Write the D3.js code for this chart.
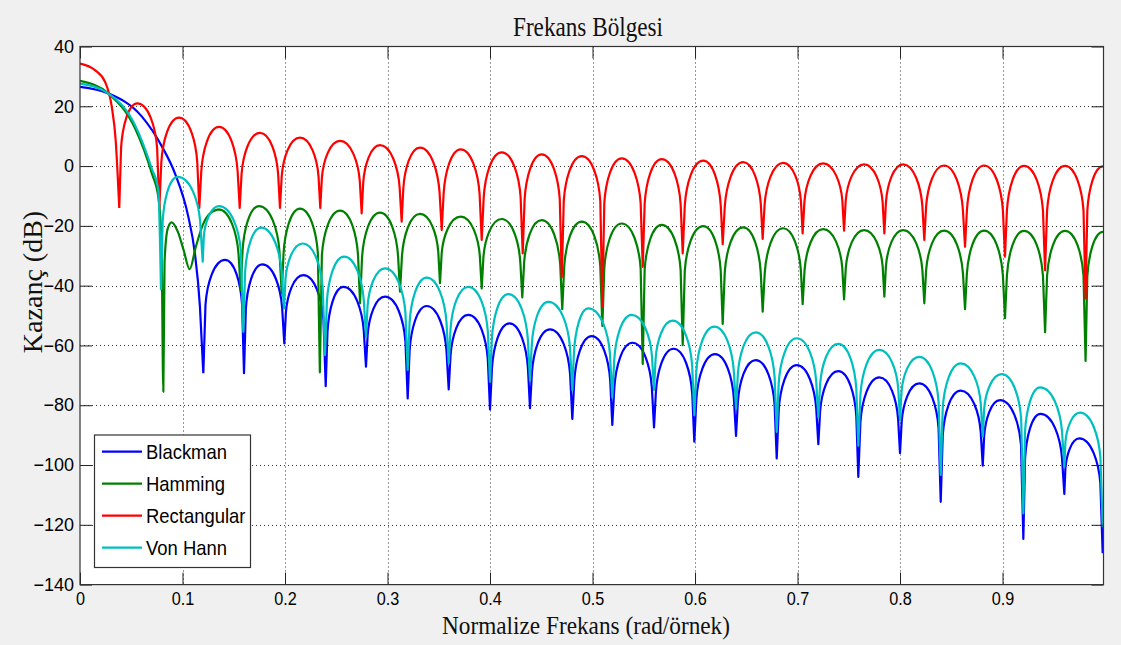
<!DOCTYPE html>
<html>
<head>
<meta charset="utf-8">
<script src="https://cdn.jsdelivr.net/npm/d3@7"></script>
<style>
  html, body { margin: 0; padding: 0; background: #f0f0f0; }
  svg { display: block; }
</style>
</head>
<body>
<svg id="chart" width="1121" height="645"></svg>
<script>
// ---------------- DATA ----------------
const seriesNames = ["Blackman", "Hamming", "Rectangular", "Von Hann"];
const xTicks = [0, 0.1, 0.2, 0.3, 0.4, 0.5, 0.6, 0.7, 0.8, 0.9];
const yTicks = [40, 20, 0, -20, -40, -60, -80, -100, -120, -140];

// main lobes: [normalized frequency, dB]
const blackmanMain = [[0,26.5],[0.0276,24.3],[0.06,16.7],[0.08,6.5],[0.0927,-2.5],[0.1057,-17],[0.112,-29],[0.117,-47],[0.1203,-69.3]];
const hammingMain = [[0,28.5],[0.0276,24.3],[0.0537,12.6],[0.07,-2.4],[0.0764,-10.3],[0.0795,-25],[0.0813,-75.5],
  [0.0825,-32],[0.0855,-21],[0.0894,-18.8],[0.0955,-22],[0.101,-28],[0.107,-34.5],[0.113,-27],[0.12,-19.5],[0.128,-15.5],[0.135,-14.5]];
const rectangularMain = [[0,34.3],[0.0146,32.1],[0.0244,28.2],[0.031,19.8],[0.0348,8.7],[0.0383,-14]];
const vonHannMain = [[0,27.6],[0.0276,24.3],[0.0537,13.7],[0.07,-0.8],[0.0764,-8],[0.079,-41.5]];

// side lobes: alternating peak / null points [normalized frequency, dB]
const blackmanLobes = [[0.1415,-31.4],[0.16,-69.3],[0.1778,-32.9],[0.1993,-59.3],[0.2179,-36.5],[0.2397,-73.6],[0.257,-40.4],[0.279,-67.1],
  [0.2976,-43.7],[0.3197,-77.7],[0.3382,-46.8],[0.3597,-74.7],[0.3788,-49.8],[0.4,-81.4],[0.419,-52.6],[0.439,-81],[0.4585,-54.6],[0.4803,-84.6],
  [0.4992,-56.9],[0.5193,-86.6],[0.539,-59.1],[0.56,-87.4],[0.579,-61.1],[0.5993,-92.2],[0.6195,-62.9],[0.64,-90.3],[0.6592,-64.9],[0.6797,-97.8],
  [0.6992,-66.6],[0.7203,-93],[0.7398,-68.6],[0.7593,-104],[0.7798,-70.7],[0.8,-96],[0.8188,-72.7],[0.8397,-112.3],[0.8592,-75.1],[0.8807,-100.2],
  [0.8976,-78.3],[0.9203,-124.7],[0.937,-82.9],[0.9603,-109.7],[0.9749,-91.1],[0.9977,-129.5]];
const hammingLobes = [[0.1568,-41.5],[0.1746,-13.4],[0.1968,-42.6],[0.2146,-14.2],[0.234,-69],[0.2537,-14.9],[0.2732,-45.9],[0.2927,-15.6],
  [0.3122,-42],[0.3317,-16],[0.3512,-39.2],[0.3714,-16.9],[0.3919,-40.9],[0.4114,-17.7],[0.4315,-43.9],[0.4504,-18.1],[0.4705,-47.9],[0.4895,-18.6],
  [0.5096,-53.5],[0.5285,-19.2],[0.549,-66.2],[0.5675,-19.7],[0.588,-59.9],[0.608,-20.1],[0.627,-52.8],[0.647,-20.5],[0.666,-48.7],[0.686,-20.8],
  [0.705,-46.2],[0.725,-21.1],[0.7454,-44.6],[0.765,-21.4],[0.7847,-43.7],[0.803,-21.4],[0.8237,-45.9],[0.843,-21.6],[0.8634,-47.9],[0.882,-21.6],
  [0.9024,-50.9],[0.921,-21.7],[0.9415,-55.6],[0.961,-21.7],[0.981,-65.2],[0.998,-22]];
const rectangularLobes = [[0.0559,21.0],[0.0774,-14],[0.0966,16.2],[0.1164,-14],[0.1356,13.1],[0.1558,-14],[0.1756,11.1],[0.1951,-14],
  [0.2146,9.5],[0.2344,-14],[0.2537,8.4],[0.2748,-15.8],[0.2927,7.0],[0.3138,-18.6],[0.3317,6.2],[0.3529,-21.4],[0.3714,5.6],[0.3919,-24.7],
  [0.4114,4.6],[0.4319,-29.2],[0.4504,3.9],[0.47,-37.2],[0.4895,3.3],[0.5096,-47],[0.5285,2.6],[0.549,-33.7],[0.5675,2.3],[0.588,-29.2],
  [0.608,1.8],[0.627,-26.1],[0.647,1.3],[0.666,-24.4],[0.686,1.1],[0.705,-22.5],[0.725,0.9],[0.7454,-21.6],[0.765,0.6],[0.7847,-22.5],
  [0.803,0.6],[0.8237,-24.7],[0.843,0.2],[0.8634,-27],[0.882,0.2],[0.9024,-30.3],[0.921,0.1],[0.9415,-34.8],[0.961,0.1],[0.981,-44.3],[0.998,-0.1]];
const vonHannLobes = [[0.0953,-3.6],[0.1197,-32],[0.1356,-13.4],[0.1593,-55.4],[0.1766,-20.6],[0.199,-47.6],[0.2173,-25.9],[0.239,-63.2],
  [0.2576,-30.3],[0.279,-57.1],[0.2976,-34.2],[0.3197,-68.2],[0.3382,-37.3],[0.3597,-66],[0.3788,-40.4],[0.4,-72.1],[0.4179,-42.8],[0.439,-71.6],
  [0.4569,-45.4],[0.4803,-74.9],[0.4959,-47.6],[0.5193,-77.4],[0.5382,-49.8],[0.56,-74.9],[0.5782,-51.7],[0.5993,-83.3],[0.6188,-53.7],[0.64,-81],
  [0.6592,-55.6],[0.6797,-88.9],[0.6992,-57.6],[0.7203,-84],[0.7398,-59.5],[0.7593,-93.5],[0.7798,-61.5],[0.8,-85],[0.8188,-63.8],[0.8397,-103.3],
  [0.8592,-66],[0.8807,-90.5],[0.8992,-69.6],[0.9203,-116.2],[0.9366,-74],[0.9603,-100.6],[0.9756,-82.5],[0.9977,-120.6]];

const seriesColors = ["#0000ff", "#008000", "#ff0000", "#00bfbf"];

// ---------------- LAYOUT ----------------
const svg = d3.select("#chart");
const pLeft = 80, pRight = 1103.5, pTop = 46.5, pBottom = 584.6;
const x = d3.scaleLinear().domain([0, 0.9985]).range([pLeft, pRight]);
const y = d3.scaleLinear().domain([-140, 40]).range([pBottom, pTop]);

svg.append("rect").attr("x", 0).attr("y", 0).attr("width", 1121).attr("height", 645).attr("fill", "#f0f0f0");
svg.append("rect").attr("x", pLeft).attr("y", pTop).attr("width", pRight - pLeft).attr("height", pBottom - pTop).attr("fill", "#ffffff");

// grid
const grid = svg.append("g").attr("stroke", "#333").attr("stroke-width", 1).attr("stroke-dasharray", "1,3");
grid.selectAll("line.gx").data(xTicks.slice(1)).join("line")
  .attr("x1", d => Math.round(x(d)) + 0.5).attr("x2", d => Math.round(x(d)) + 0.5)
  .attr("y1", pTop).attr("y2", pBottom);
grid.selectAll("line.gy").data(yTicks.slice(1, -1)).join("line")
  .attr("y1", d => Math.round(y(d)) + 0.5).attr("y2", d => Math.round(y(d)) + 0.5)
  .attr("x1", pLeft).attr("x2", pRight);

// curves
svg.append("defs").append("clipPath").attr("id", "clip")
  .append("rect").attr("x", pLeft).attr("y", pTop - 2).attr("width", pRight - pLeft).attr("height", pBottom - pTop + 4);

const mainLine = d3.line().x(d => x(d[0])).y(d => y(d[1])).curve(d3.curveMonotoneX);

function lobePath(start, lobes) {
  const p = d3.path();
  p.moveTo(x(start[0]), y(start[1]));
  let prev = start;
  for (const cur of lobes) {
    const rising = cur[1] > prev[1];
    const nul = rising ? prev : cur, pk = rising ? cur : prev;
    const D = pk[1] - nul[1];
    const s = Math.min(15, 0.55 * D);
    const us = 0.1 * s / 15;
    const X = u => x(nul[0] + u * (pk[0] - nul[0]));
    const S = [X(us), y(pk[1] - s)];
    const C1 = [X(us + 0.07), y(pk[1] - 0.53 * s)];
    const C2 = [X(0.5), y(pk[1])];
    const P = [x(pk[0]), y(pk[1])];
    if (rising) {
      p.lineTo(S[0], S[1]);
      p.bezierCurveTo(C1[0], C1[1], C2[0], C2[1], P[0], P[1]);
    } else {
      p.bezierCurveTo(C2[0], C2[1], C1[0], C1[1], S[0], S[1]);
      p.lineTo(x(nul[0]), y(nul[1]));
    }
    prev = cur;
  }
  return p.toString();
}

const mains = [blackmanMain, hammingMain, rectangularMain, vonHannMain];
const lobesAll = [blackmanLobes, hammingLobes, rectangularLobes, vonHannLobes];
const curves = svg.append("g").attr("clip-path", "url(#clip)");
seriesNames.forEach((name, i) => {
  const m = mains[i];
  const d = mainLine(m) + lobePath(m[m.length - 1], lobesAll[i]);
  curves.append("path").attr("d", d).attr("fill", "none")
    .attr("stroke", seriesColors[i]).attr("stroke-width", 2.2).attr("stroke-linejoin", "round");
});

// axes
const tickFont = "'Liberation Sans', Arial, sans-serif";
const fmt = d => d === 0 ? "0" : d3.format(".1f")(d);
const axB = svg.append("g").attr("transform", `translate(0,${pBottom})`)
  .call(d3.axisBottom(x).tickValues(xTicks).tickFormat(fmt).tickSize(-12).tickPadding(8));
const axL = svg.append("g").attr("transform", `translate(${pLeft},0)`)
  .call(d3.axisLeft(y).tickValues(yTicks).tickSize(-12).tickPadding(6));
const axT = svg.append("g").attr("transform", `translate(0,${pTop})`)
  .call(d3.axisTop(x).tickValues(xTicks).tickFormat("").tickSize(-12));
const axR = svg.append("g").attr("transform", `translate(${pRight},0)`)
  .call(d3.axisRight(y).tickValues(yTicks).tickFormat("").tickSize(-12));
[axB, axL, axT, axR].forEach(g => {
  g.select(".domain").remove();
  g.selectAll(".tick line").attr("stroke", "#222").attr("stroke-width", 1);
  g.selectAll(".tick text").attr("font-family", tickFont).attr("font-size", 18).attr("fill", "#000");
});
axB.selectAll(".tick text").attr("textLength", function () { return this.getComputedTextLength() * 0.9; })
  .attr("lengthAdjust", "spacingAndGlyphs");

// frame
svg.append("rect").attr("x", pLeft).attr("y", pTop).attr("width", pRight - pLeft).attr("height", pBottom - pTop)
  .attr("fill", "none").attr("stroke", "#333").attr("stroke-width", 1.2);

// titles
const serif = "'Liberation Serif', 'Times New Roman', serif";
svg.append("text").attr("x", 588).attr("y", 35.5).attr("text-anchor", "middle")
  .attr("font-family", serif).attr("font-size", 27).attr("fill", "#111")
  .attr("textLength", 150).attr("lengthAdjust", "spacingAndGlyphs").text("Frekans Bölgesi");
svg.append("text").attr("x", 586).attr("y", 634).attr("text-anchor", "middle")
  .attr("font-family", serif).attr("font-size", 25.5).attr("fill", "#111")
  .attr("textLength", 288).attr("lengthAdjust", "spacingAndGlyphs").text("Normalize Frekans (rad/örnek)");
svg.append("text").attr("transform", "translate(41.5,282) rotate(-90)").attr("text-anchor", "middle")
  .attr("font-family", serif).attr("font-size", 28).attr("fill", "#111").text("Kazanç (dB)");

// legend
const lg = svg.append("g");
lg.append("rect").attr("x", 94.5).attr("y", 435).attr("width", 156).attr("height", 132.5)
  .attr("fill", "#fff").attr("stroke", "#333").attr("stroke-width", 1.2);
const legendY = d3.scalePoint().domain(seriesNames).range([451.7, 547.7]);
seriesNames.forEach((name, i) => {
  const yy = legendY(name);
  lg.append("line").attr("x1", 102).attr("x2", 142).attr("y1", yy).attr("y2", yy)
    .attr("stroke", seriesColors[i]).attr("stroke-width", 2.2);
  lg.append("g").attr("transform", `translate(146,${yy + 7.5}) scale(0.9,1)`)
    .append("text").attr("font-family", tickFont).attr("font-size", 20.5).attr("fill", "#000").text(name);
});
</script>
</body>
</html>
